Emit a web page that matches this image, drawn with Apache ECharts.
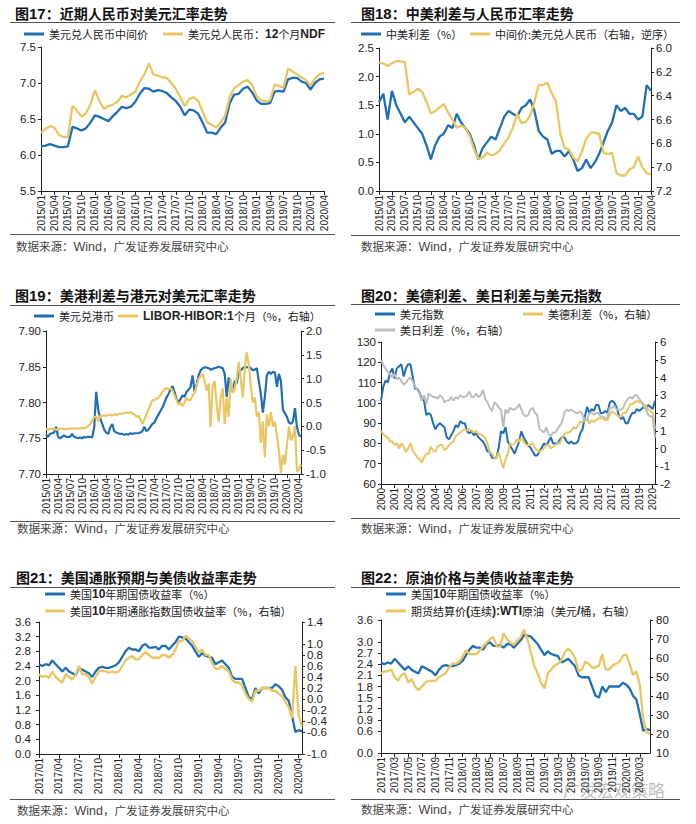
<!DOCTYPE html>
<html><head><meta charset="utf-8">
<script src="https://cdn.jsdelivr.net/npm/echarts@6/dist/echarts.min.js"></script>
<style>
body{margin:0;background:#fff;width:696px;height:824px;position:relative;overflow:hidden;font-family:"Noto Sans CJK SC",sans-serif}
.ttl{position:absolute;font-weight:bold;font-size:14px;color:#111;line-height:18px;white-space:nowrap}
.ttl b{font-family:"Liberation Sans",Arial,sans-serif;font-size:15px}
.rule{position:absolute;height:0;border-top:1px solid #555}
.src{position:absolute;font-size:11.5px;color:#444;line-height:14px;white-space:nowrap}
.src span{font-family:"Liberation Sans",Arial,sans-serif;font-size:12.5px}
.ch{position:absolute}
.wm{position:absolute;font-size:17px;color:rgba(110,110,110,0.45);white-space:nowrap;line-height:20px}
.tk{position:absolute;font-family:"Liberation Sans",Arial,sans-serif;font-size:11.5px;color:#222;line-height:14px;white-space:nowrap;z-index:5}
</style></head><body>
<div class="ttl" style="left:15px;top:4px">图<b>17</b>：近期人民币对美元汇率走势</div>
<div class="ttl" style="left:361px;top:4px">图<b>18</b>：中美利差与人民币汇率走势</div>
<div class="ttl" style="left:15px;top:286px">图<b>19</b>：美港利差与港元对美元汇率走势</div>
<div class="ttl" style="left:361px;top:286px">图<b>20</b>：美德利差、美日利差与美元指数</div>
<div class="ttl" style="left:16px;top:568px">图<b>21</b>：美国通胀预期与美债收益率走势</div>
<div class="ttl" style="left:361px;top:568px">图<b>22</b>：原油价格与美债收益率走势</div>
<div class="rule" style="left:10px;top:22px;width:325px"></div>
<div class="rule" style="left:351px;top:22px;width:329px"></div>
<div class="rule" style="left:10px;top:305px;width:325px"></div>
<div class="rule" style="left:351px;top:304px;width:329px"></div>
<div class="rule" style="left:10px;top:587px;width:325px"></div>
<div class="rule" style="left:351px;top:587px;width:329px"></div>
<div class="rule" style="left:10px;top:234px;width:325px"></div>
<div class="rule" style="left:351px;top:235px;width:329px"></div>
<div class="rule" style="left:10px;top:521px;width:325px"></div>
<div class="rule" style="left:351px;top:518px;width:329px"></div>
<div class="rule" style="left:10px;top:799px;width:325px"></div>
<div class="rule" style="left:351px;top:799px;width:329px"></div>
<div class="src" style="left:16px;top:239px">数据来源：<span>Wind</span>，广发证券发展研究中心</div>
<div class="src" style="left:361px;top:239px">数据来源：<span>Wind</span>，广发证券发展研究中心</div>
<div class="src" style="left:17px;top:521px">数据来源：<span>Wind</span>，广发证券发展研究中心</div>
<div class="src" style="left:361px;top:521px">数据来源：<span>Wind</span>，广发证券发展研究中心</div>
<div class="src" style="left:17px;top:803px">数据来源：<span>Wind</span>，广发证券发展研究中心</div>
<div class="src" style="left:361px;top:802px">数据来源：<span>Wind</span>，广发证券发展研究中心</div>
<div class="ch" id="c17" style="left:0;top:0;width:348px;height:280px"></div>
<div class="ch" id="c18" style="left:348px;top:0;width:348px;height:280px"></div>
<div class="ch" id="c19" style="left:0;top:280px;width:348px;height:280px"></div>
<div class="ch" id="c20" style="left:348px;top:280px;width:348px;height:280px"></div>
<div class="ch" id="c21" style="left:0;top:560px;width:348px;height:280px"></div>
<div class="ch" id="c22" style="left:348px;top:560px;width:348px;height:280px"></div>
<div class="wm" style="left:563px;top:780px">广发宏观策略</div>
<script>
// ---------- categories ----------
function months(y0, m0, y1, m1, step) {
  const out = [];
  for (let y = y0, m = m0; y < y1 || (y === y1 && m <= m1); ) {
    out.push(y + '/' + String(m).padStart(2, '0'));
    m += step; while (m > 12) { m -= 12; y++; }
  }
  return out;
}
function halfMonths(y0, m0, y1, m1) {
  const out = [];
  months(y0, m0, y1, m1, 1).forEach(s => { out.push(s + '/01'); out.push(s + '/16'); });
  return out;
}
const monthly2015 = months(2015, 1, 2020, 4, 1);      // 64
const half2015 = halfMonths(2015, 1, 2020, 4);        // 128
const bimonthly2000 = months(2000, 1, 2020, 3, 2);    // 122
const half2017 = halfMonths(2017, 1, 2020, 4);        // 80

// ---------- Fig 17 / 18 ----------
const cnyMid = [
  6.12, 6.13, 6.15, 6.13, 6.11, 6.11, 6.12, 6.39, 6.37, 6.34, 6.37, 6.45,
  6.55, 6.53, 6.50, 6.47, 6.54, 6.60, 6.67, 6.65, 6.67, 6.74, 6.85, 6.93,
  6.92, 6.88, 6.90, 6.89, 6.86, 6.80, 6.75, 6.67, 6.55, 6.63, 6.62, 6.57,
  6.45, 6.31, 6.31, 6.29, 6.38, 6.45, 6.72, 6.84, 6.85, 6.92, 6.95, 6.87,
  6.76, 6.71, 6.71, 6.72, 6.88, 6.89, 6.88, 7.05, 7.07, 7.07, 7.02, 7.00,
  6.91, 7.00, 7.05, 7.06];
const cnyNdf = [
  6.31, 6.36, 6.40, 6.38, 6.28, 6.25, 6.25, 6.68, 6.62, 6.53, 6.58, 6.70,
  6.90, 6.75, 6.64, 6.68, 6.70, 6.74, 6.82, 6.80, 6.84, 6.88, 7.02, 7.12,
  7.27, 7.12, 7.10, 7.08, 7.07, 7.00, 6.92, 6.80, 6.68, 6.78, 6.80, 6.75,
  6.60, 6.45, 6.42, 6.38, 6.45, 6.55, 6.80, 6.93, 6.97, 7.02, 7.04, 6.97,
  6.82, 6.76, 6.74, 6.76, 6.98, 6.96, 6.93, 7.20, 7.16, 7.12, 7.08, 7.04,
  6.96, 7.06, 7.12, 7.14];
const cnUsSpread = [
  1.55, 1.70, 1.25, 1.75, 1.50, 1.35, 1.20, 1.30, 1.20, 1.10, 1.00, 0.80,
  0.55, 0.80, 0.95, 1.00, 1.15, 1.10, 1.35, 1.20, 1.10, 1.00, 0.80, 0.55,
  0.75, 0.85, 0.95, 0.90, 1.10, 1.30, 1.40, 1.35, 1.30, 1.45, 1.50, 1.60,
  1.40, 1.05, 0.95, 0.90, 0.65, 0.70, 0.70, 0.60, 0.70, 0.55, 0.35, 0.40,
  0.55, 0.40, 0.50, 0.65, 0.85, 1.05, 1.20, 1.50, 1.40, 1.45, 1.35, 1.35,
  1.25, 1.30, 1.85, 1.75];

// ---------- Fig 19 (semi-monthly) ----------
const usdHkd = [
  7.755, 7.752, 7.756, 7.757, 7.758, 7.766, 7.752, 7.750, 7.752, 7.754, 7.752, 7.752,
  7.752, 7.756, 7.752, 7.751, 7.750, 7.751, 7.750, 7.752, 7.751, 7.752, 7.752, 7.751,
  7.765, 7.815, 7.790, 7.778, 7.770, 7.762, 7.758, 7.756, 7.765, 7.770, 7.760, 7.758,
  7.757, 7.756, 7.756, 7.755, 7.756, 7.755, 7.757, 7.756, 7.757, 7.757, 7.757, 7.758,
  7.760, 7.766, 7.760, 7.762, 7.766, 7.770, 7.772, 7.778, 7.783, 7.788, 7.793, 7.800,
  7.807, 7.812, 7.818, 7.823, 7.815, 7.805, 7.800, 7.805, 7.810, 7.808, 7.815, 7.818,
  7.822, 7.838, 7.815, 7.825, 7.838, 7.845, 7.848, 7.849, 7.849, 7.848, 7.846, 7.847,
  7.848, 7.849, 7.850, 7.849, 7.848, 7.840, 7.808, 7.835, 7.825, 7.815, 7.830, 7.827,
  7.843, 7.845, 7.848, 7.850, 7.849, 7.850, 7.848, 7.845, 7.846, 7.848, 7.830, 7.812,
  7.786, 7.808, 7.838, 7.843, 7.840, 7.843, 7.842, 7.822, 7.840, 7.830, 7.790, 7.785,
  7.780, 7.772, 7.770, 7.774, 7.792, 7.765, 7.755, 7.752];
const liborHibor = [
  -0.05, -0.07, -0.06, -0.05, -0.06, -0.07, -0.06, -0.05, -0.05, -0.06, -0.06, -0.05,
  -0.05, -0.04, -0.05, -0.04, -0.04, -0.05, -0.03, -0.04, -0.02, 0.00, 0.05, 0.12,
  0.20, 0.20, 0.10, 0.22, 0.22, 0.23, 0.22, 0.24, 0.24, 0.23, 0.25, 0.24,
  0.25, 0.26, 0.27, 0.28, 0.29, 0.28, 0.30, 0.27, 0.25, 0.20, 0.22, 0.15,
  0.05, 0.15, 0.25, 0.35, 0.45, 0.55, 0.55, 0.58, 0.60, 0.65, 0.72, 0.78,
  0.80, 0.78, 0.80, 0.75, 0.65, 0.55, 0.45, 0.50, 0.42, 0.50, 0.60, 0.55,
  0.55, 0.65, 0.70, 0.85, 1.00, 1.05, 1.10, 0.95, 0.75, 0.90, -0.02, 0.85,
  0.95, 0.45, 0.10, 0.60, 0.80, 0.05, 0.60, 0.20, 1.00, 0.70, 0.80, 1.00,
  1.35, 1.00, 0.60, 1.20, 1.55, 1.30, 0.85, 0.50, 0.60, 0.20, 0.30, -0.35,
  0.10, -0.65, 0.25, 0.00, 0.30, 0.00, 0.10, -0.20, -0.50, -0.98, -0.60, -0.80,
  -0.40, 0.00, -0.30, -0.20, 0.00, -0.95, -0.90, -0.80];

// ---------- Fig 20 (bimonthly) ----------
const dxy = [
  101, 108, 111, 110, 115, 117,
  112, 117, 118, 119, 113, 117,
  119, 119, 113, 107, 107, 105,
  102, 101, 94, 95, 94, 90,
  87, 89, 90, 89, 88, 83,
  82, 84, 86, 89, 88, 91,
  90, 90, 86, 85, 86, 84,
  85, 83, 82, 81, 79, 76,
  76, 73, 73, 73, 78, 86,
  85, 88, 81, 79, 77, 75,
  78, 81, 86, 83, 81, 79,
  78, 76, 74, 74, 76, 78,
  80, 79, 81, 83, 80, 80,
  80, 82, 83, 83, 81, 80,
  81, 80, 80, 81, 85, 87,
  93, 98, 95, 97, 96, 99,
  99, 95, 95, 96, 95, 100,
  101, 100, 98, 94, 92, 93,
  90, 90, 93, 95, 95, 97,
  96, 97, 98, 97, 99, 98,
  97, 101];
const usDeSpread = [
  1.0, 0.8, 0.7, 0.6, 0.4, 0.4,
  0.2, 0.3, 0.0, 0.3, 0.1, -0.2,
  0.0, 0.3, -0.1, -0.3, -0.5, -0.6,
  -0.8, -0.5, -0.3, -0.3, 0.1, -0.1,
  -0.2, 0.1, 0.2, 0.2, -0.1, 0.0,
  0.2, 0.3, 0.4, 0.7, 0.8, 0.9,
  1.0, 1.1, 1.0, 1.1, 1.0, 0.9,
  1.0, 0.8, 0.8, 0.7, 0.6, 0.3,
  -0.2, -0.3, -0.5, -0.5, -0.2, -0.7,
  -1.1, -0.6, -0.3, 0.3, 0.2, 0.3,
  0.5, 0.4, 0.6, 0.4, 0.2, 0.2,
  0.2, 0.3, 0.0, -0.1, -0.2, -0.1,
  0.0, 0.2, 0.2, 0.0, 0.1, 0.2,
  0.3, 0.3, 0.6, 0.8, 0.9, 0.9,
  1.0, 1.2, 1.1, 1.3, 1.5, 1.5,
  1.6, 1.6, 1.4, 1.6, 1.5, 1.6,
  1.7, 1.7, 1.7, 1.6, 1.6, 1.9,
  2.1, 2.0, 1.9, 1.8, 1.8, 2.0,
  2.0, 2.2, 2.5, 2.5, 2.6, 2.7,
  2.6, 2.6, 2.5, 2.4, 2.2, 2.1,
  2.0, 1.1];
const usJpSpread = [
  5.0, 4.7, 4.5, 4.3, 4.2, 4.0,
  4.2, 3.9, 4.0, 3.8, 3.6, 3.7,
  3.9, 4.0, 3.8, 3.5, 3.3, 3.1,
  2.7, 3.0, 2.5, 3.1, 3.0, 2.9,
  2.9, 2.8, 3.0, 2.9, 2.6, 2.7,
  2.7, 2.9, 2.7, 2.9, 2.8, 3.0,
  2.9, 2.9, 3.0, 3.2, 2.9, 2.9,
  3.1, 2.9, 3.0, 3.3, 2.8, 2.6,
  2.3, 2.1, 2.6, 2.5, 2.3, 2.2,
  1.2, 2.2, 2.0, 2.3, 2.2, 2.2,
  2.3, 2.5, 2.2, 1.9, 1.8, 1.9,
  2.2, 2.3, 2.0, 1.9, 1.1, 1.0,
  0.9, 1.2, 0.8, 0.7, 0.9, 0.9,
  1.1, 1.3, 1.5, 2.0, 2.2, 2.1,
  2.2, 2.1, 2.0, 2.0, 2.1, 1.9,
  1.6, 1.6, 2.0, 2.0, 1.9, 2.0,
  2.0, 1.8, 1.8, 1.7, 1.7, 2.3,
  2.3, 2.4, 2.2, 2.2, 2.2, 2.3,
  2.6, 2.8, 2.9, 2.8, 3.0, 3.0,
  2.8, 2.6, 2.4, 2.2, 1.9, 1.8,
  1.8, 0.6];

// ---------- Fig 21 / 22 (semi-monthly) ----------
const ust10y = [
  2.45, 2.40, 2.45, 2.42, 2.55, 2.45, 2.35, 2.25, 2.35, 2.25, 2.20, 2.15,
  2.35, 2.30, 2.25, 2.20, 2.10, 2.25, 2.35, 2.38, 2.35, 2.35, 2.38, 2.42,
  2.50, 2.65, 2.80, 2.90, 2.85, 2.85, 2.80, 2.95, 3.00, 2.90, 2.90, 2.92,
  2.85, 2.95, 2.95, 2.85, 2.95, 3.05, 3.20, 3.18, 3.15, 3.05, 2.95, 2.80,
  2.65, 2.75, 2.68, 2.65, 2.62, 2.45, 2.50, 2.55, 2.45, 2.35, 2.10, 2.05,
  2.05, 2.05, 1.80, 1.55, 1.50, 1.80, 1.65, 1.80, 1.80, 1.80, 1.80, 1.90,
  1.85, 1.75, 1.55, 1.45, 1.05, 0.60, 0.65, 0.62];
const tips10y = [
  0.45, 0.40, 0.42, 0.38, 0.50, 0.40, 0.35, 0.30, 0.45, 0.40, 0.35, 0.45,
  0.60, 0.45, 0.45, 0.40, 0.28, 0.40, 0.50, 0.52, 0.50, 0.48, 0.50, 0.48,
  0.50, 0.60, 0.70, 0.75, 0.78, 0.72, 0.72, 0.80, 0.85, 0.80, 0.75, 0.75,
  0.75, 0.80, 0.80, 0.75, 0.80, 0.90, 1.05, 1.05, 1.15, 1.10, 1.05, 0.95,
  0.85, 0.90, 0.80, 0.80, 0.65, 0.55, 0.55, 0.60, 0.55, 0.50, 0.35, 0.30,
  0.30, 0.25, 0.10, 0.00, -0.05, 0.15, 0.15, 0.20, 0.20, 0.20, 0.15, 0.15,
  0.10, 0.05, -0.05, -0.15, -0.35, 0.60, -0.30, -0.50];
const wti = [
  52, 53, 53, 54, 50, 48, 51, 52, 47, 49, 45, 43,
  45, 47, 48, 48, 48, 50, 51, 52, 55, 57, 57, 58,
  61, 64, 62, 62, 62, 64, 66, 68, 70, 71, 66, 66,
  73, 70, 68, 67, 69, 71, 75, 70, 63, 56, 52, 47,
  44, 52, 54, 56, 57, 59, 63, 65, 63, 60, 53, 54,
  58, 57, 55, 55, 56, 62, 54, 54, 56, 57, 58, 61,
  62, 57, 51, 53, 46, 28, 21, 20];
const wtiAxisMin = 10;

// ---------- helpers ----------
const BLUE = '#1f6fb2', GOLD = '#e8c662', GREY = '#bdbdbd';
const AX = '#222';
const LABEL_FONT = 'Liberation Sans, Arial, sans-serif';
const RICH = {
  b: { fontSize: 12, fontWeight: 'bold', fontFamily: LABEL_FONT, color: '#222', lineHeight: 14 }
};
const LEG_FMT = {
  '美元兑人民币：12个月NDF': '美元兑人民币：{b|12}个月{b|NDF}',
  'LIBOR-HIBOR:1个月（%，右轴）': '{b|LIBOR-HIBOR:1}个月（%，右轴）',
  '美国10年期国债收益率（%）': '美国{b|10}年期国债收益率（%）',
  '美国10年期通胀指数国债收益率（%，右轴）': '美国{b|10}年期通胀指数国债收益率（%，右轴）',
  '期货结算价(连续):WTI原油（美元/桶，右轴）': '期货结算价{b|(}连续{b|):WTI}原油（美元{b|/}桶，右轴）'
};
function fmtNum(dec) { return v => (Math.abs(v) < 1e-9 ? 0 : v).toFixed(dec); }
function yAx(min, max, interval, dec, extra, margin, hideMin) {
  return Object.assign({
    type: 'value', min, max, interval,
    axisLine: { show: true, onZero: false, lineStyle: { color: AX, width: 1 } },
    axisTick: { show: true, length: 3, lineStyle: { color: AX } },
    splitLine: { show: false },
    axisLabel: { color: '#222', fontSize: 11.5, fontFamily: LABEL_FONT, margin: margin || 5,
      showMinLabel: !hideMin, showMaxLabel: true, hideOverlap: false, formatter: fmtNum(dec) }
  }, extra || {});
}
function xAx(cats, interval, cut) {
  return {
    type: 'category', data: cats, boundaryGap: false,
    axisLine: { onZero: false, lineStyle: { color: AX, width: 1 } },
    axisTick: { show: true, interval, length: 4, lineStyle: { color: AX } },
    splitLine: { show: false },
    axisLabel: { interval, rotate: 90, fontSize: 10, color: '#222', margin: 4, hideOverlap: false,
      fontFamily: LABEL_FONT, formatter: v => v.slice(0, cut) }
  };
}
function line(name, data, color, yi, w) {
  return { name, type: 'line', data, yAxisIndex: yi || 0, symbol: 'none', showSymbol: false,
    lineStyle: { color, width: w || 2.3 }, itemStyle: { color }, z: 2 };
}
function leg(name, left, top) {
  return { data: [name], left, top, icon: 'rect', itemWidth: 20, itemHeight: 3, selectedMode: false, padding: 0,
    textStyle: { fontSize: 11, color: '#222', fontFamily: 'Noto Sans CJK SC, sans-serif', lineHeight: 14, rich: RICH },
    formatter: n => LEG_FMT[n] || n };
}
function mk(id, opt) {
  const c = echarts.init(document.getElementById(id), null, { renderer: 'svg' });
  opt.animation = false;
  c.setOption(opt);
  return c;
}

// ---------- Fig 17 ----------
mk('c17', {
  grid: { left: 41, top: 47, width: 283, height: 144 },
  legend: [leg('美元兑人民币中间价', 24, 27), leg('美元兑人民币：12个月NDF', 163, 27)],
  xAxis: xAx(monthly2015, 2, 7),
  yAxis: yAx(5.5, 7.5, 0.5, 1),
  series: [line('美元兑人民币中间价', cnyMid, BLUE), line('美元兑人民币：12个月NDF', cnyNdf, GOLD)]
});
// ---------- Fig 18 ----------
mk('c18', {
  grid: { left: 31, top: 48, width: 272, height: 143 },
  legend: [leg('中美利差（%）', 13, 27), leg('中间价:美元兑人民币（右轴，逆序）', 122, 27)],
  xAxis: xAx(monthly2015, 2, 7),
  yAxis: [yAx(0, 2.5, 0.5, 1), yAx(6.0, 7.2, 0.2, 1, { position: 'right', inverse: true })],
  series: [line('中美利差（%）', cnUsSpread, BLUE, 0), line('中间价:美元兑人民币（右轴，逆序）', cnyMid, GOLD, 1)]
});
// ---------- Fig 19 ----------
mk('c19', {
  grid: { left: 46, top: 51, width: 255, height: 143 },
  legend: [leg('美元兑港币', 34, 29), leg('LIBOR-HIBOR:1个月（%，右轴）', 118, 29)],
  xAxis: xAx(half2015, 5, 7),
  yAxis: [yAx(7.70, 7.90, 0.05, 2), yAx(-1.0, 2.0, 0.5, 1, { position: 'right' })],
  series: [line('美元兑港币', usdHkd, BLUE, 0, 2.2), line('LIBOR-HIBOR:1个月（%，右轴）', liborHibor, GOLD, 1, 2.2)]
});
// ---------- Fig 20 ----------
mk('c20', {
  grid: { left: 33, top: 62, width: 274, height: 142 },
  legend: [leg('美元指数', 27, 27), leg('美德利差（%，右轴）', 175, 27), leg('美日利差（%，右轴）', 27, 43)],
  xAxis: xAx(bimonthly2000, 5, 4),
  yAxis: [yAx(60, 130, 10, 0), yAx(-2, 6, 1, 0, { position: 'right' })],
  series: [line('美元指数', dxy, BLUE, 0, 2), line('美德利差（%，右轴）', usDeSpread, GOLD, 1, 2),
           line('美日利差（%，右轴）', usJpSpread, GREY, 1, 2)]
});
// ---------- Fig 21 ----------
mk('c21', {
  grid: { left: 39, top: 62, width: 263, height: 132 },
  legend: [leg('美国10年期国债收益率（%）', 45, 27), leg('美国10年期通胀指数国债收益率（%，右轴）', 45, 44)],
  xAxis: xAx(half2017, 5, 7),
  yAxis: [yAx(0, 3.6, 0.4, 1, null, 8), yAx(-1.0, 1.4, 0.2, 1, { position: 'right' }, 5)],
  series: [line('美国10年期国债收益率（%）', ust10y, BLUE, 0), line('美国10年期通胀指数国债收益率（%，右轴）', tips10y, GOLD, 1)]
});
// ---------- Fig 22 ----------
const G22 = { left: 33, top: 60, width: 269, height: 133 };
const c22 = mk('c22', {
  grid: G22,
  legend: [leg('美国10年期国债收益率（%）', 38, 27), leg('期货结算价(连续):WTI原油（美元/桶，右轴）', 38, 44)],
  xAxis: xAx(half2017, 3, 7),
  yAxis: [yAx(0, 3.6, 0.3, 1, null, 8), yAx(wtiAxisMin, 80, 10, 0, { position: 'right' }, 6, true)],
  series: [line('美国10年期国债收益率（%）', ust10y, BLUE, 0), line('期货结算价(连续):WTI原油（美元/桶，右轴）', wti, GOLD, 1)]
});
// the right axis' lowest tick label (ECharts hides it at the corner), placed through the axis scale
(function () {
  let y = c22.convertToPixel({ yAxisIndex: 1 }, wtiAxisMin);
  if (!isFinite(y)) y = G22.top + G22.height;
  const host = document.getElementById('c22');
  const d = document.createElement('div');
  d.className = 'tk';
  d.textContent = String(wtiAxisMin);
  d.style.left = (host.offsetLeft + G22.left + G22.width + 6) + 'px';
  d.style.top = (host.offsetTop + y - 7) + 'px';
  document.body.appendChild(d);
})();
</script>
</body></html>
